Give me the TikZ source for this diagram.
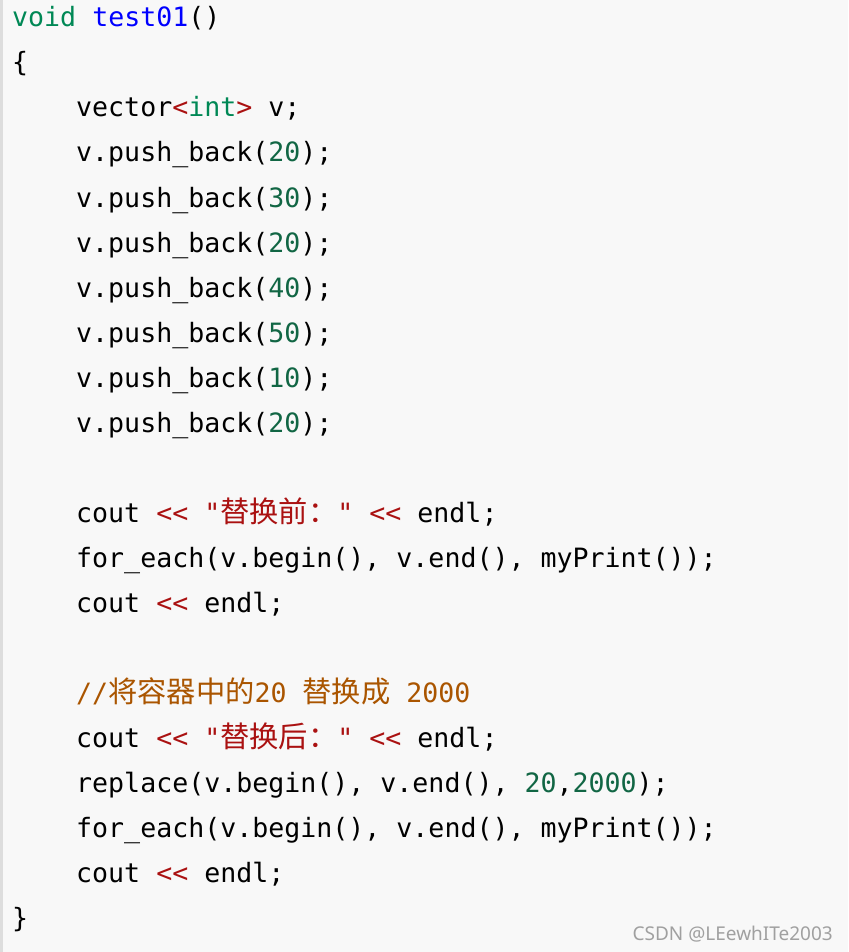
\documentclass[tikz,border=0pt]{standalone}
\usepackage{fontspec}
\setmonofont{DejaVu Sans Mono}
\newfontfamily\cjk[Scale=1.1]{Noto Sans CJK SC}
\newfontfamily\markfont{Noto Sans}
\usepackage{xcolor}
\definecolor{codebg}{HTML}{F8F8F8}
\definecolor{codebar}{HTML}{DDDDDD}
\definecolor{kwtype}{HTML}{008855}
\definecolor{fndef}{HTML}{0000FF}
\definecolor{numlit}{HTML}{116644}
\definecolor{oplit}{HTML}{AA1111}
\definecolor{cmtxt}{HTML}{AA5500}
\definecolor{marktxt}{HTML}{A0A0A0}
\tikzstyle{codeline} = [anchor=base west,
inner sep=0pt,
font=\fontsize{26.6}{30}\selectfont\ttfamily]
\tikzstyle{markline} = [anchor=base east,
inner sep=0pt,
text=marktxt,
font=\markfont\fontsize{19}{22}\selectfont]
\newcommand{\kw}[1]{\textcolor{kwtype}{#1}}
\newcommand{\lit}[1]{\textcolor{numlit}{#1}}
\newcommand{\opr}[1]{\textcolor{oplit}{#1}}
\newcommand{\cmt}[1]{\textcolor{cmtxt}{#1}}

\begin{document}
\begin{tikzpicture}[x=1pt, y=-1pt]
		\fill [codebg] (0,0) rectangle (848,952);
		\fill [codebar] (0,0) rectangle (2.5,952);
		
		\node (head) [codeline] at (12,27) {\kw{void} \textcolor{fndef}{test01}()};
		\node (open) [codeline] at (12,72) {\{};
		\node (decl) [codeline] at (76,117) {vector\opr{<}\kw{int}\opr{>} v;};
		\node (push1) [codeline] at (76,162) {v.push\_back(\lit{20});};
		\node (push2) [codeline] at (76,207) {v.push\_back(\lit{30});};
		\node (push3) [codeline] at (76,252) {v.push\_back(\lit{20});};
		\node (push4) [codeline] at (76,297) {v.push\_back(\lit{40});};
		\node (push5) [codeline] at (76,342) {v.push\_back(\lit{50});};
		\node (push6) [codeline] at (76,387) {v.push\_back(\lit{10});};
		\node (push7) [codeline] at (76,432) {v.push\_back(\lit{20});};
		
		\node (before) [codeline] at (76,522) {cout \opr{<<} \opr{"{\cjk 替换前：}"} \opr{<<} endl;};
		\node (print1) [codeline] at (76,567) {for\_each(v.begin(), v.end(), myPrint());};
		\node (endl1) [codeline] at (76,612) {cout \opr{<<} endl;};
		
		\node (note) [codeline] at (76,702) {\cmt{//{\cjk 将容器中的}20 {\cjk 替换成} 2000}};
		\node (after) [codeline] at (76,747) {cout \opr{<<} \opr{"{\cjk 替换后：}"} \opr{<<} endl;};
		\node (repl) [codeline] at (76,792) {replace(v.begin(), v.end(), \lit{20},\lit{2000});};
		\node (print2) [codeline] at (76,837) {for\_each(v.begin(), v.end(), myPrint());};
		\node (endl2) [codeline] at (76,882) {cout \opr{<<} endl;};
		\node (close) [codeline] at (12,927) {\}};
		
		\node (mark) [markline] at (833,940) {CSDN @LEewhITe2003};
	\end{tikzpicture}
\end{document}
